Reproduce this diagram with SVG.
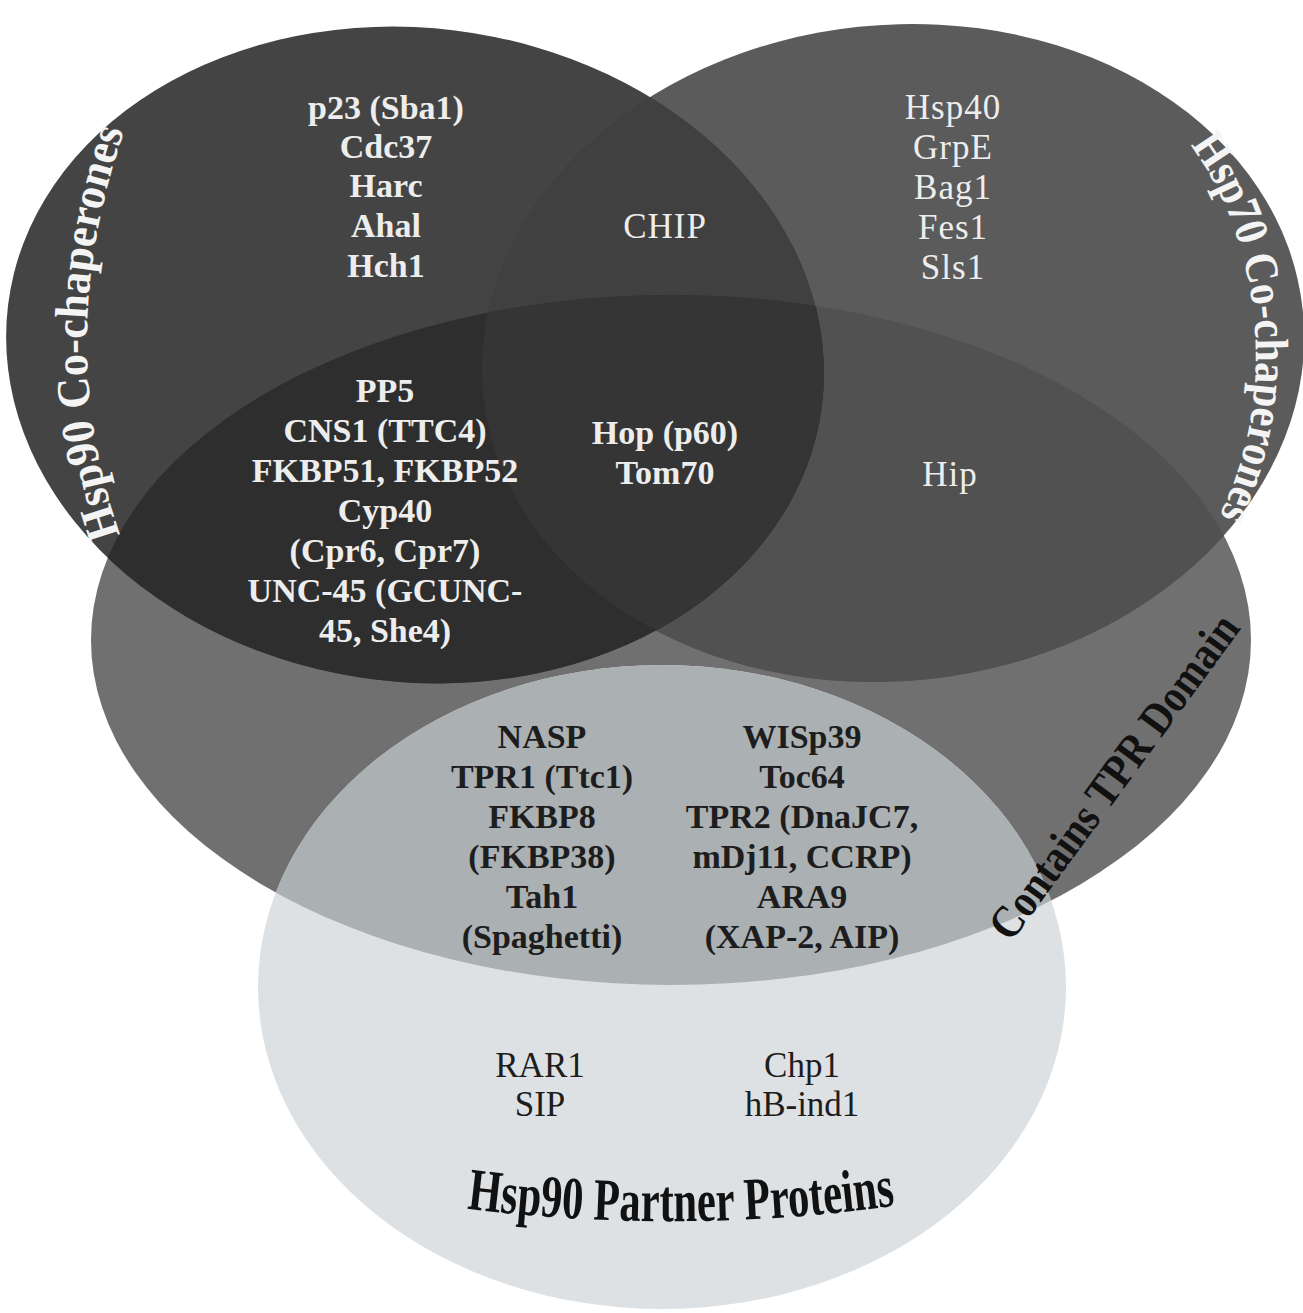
<svg xmlns="http://www.w3.org/2000/svg" width="1303" height="1313" viewBox="0 0 1303 1313">
<style>
  text { font-family: "Liberation Serif", "Times New Roman", serif; text-anchor: middle; }
  .lw { fill: #ededed; font-size: 34px; font-weight: bold; }
  .lwn { fill: #ededed; font-size: 35px; font-weight: normal; letter-spacing: 1px; }
  .lk { fill: #1d1d1d; font-size: 34px; font-weight: bold; }
  .lkn { fill: #1d1d1d; font-size: 35px; font-weight: normal; }
  .tw { fill: #f4f4f4; font-size: 47px; font-weight: bold; }
  .tk { fill: #111111; font-weight: bold; }
</style>
<defs>
  <clipPath id="c2"><ellipse cx="0" cy="0" rx="412" ry="328" transform="translate(893,353) rotate(-6)"/></clipPath>
  <clipPath id="c3"><ellipse cx="671" cy="640" rx="580" ry="345"/></clipPath>
  <path id="p90" d="M 122,540 Q 50,340 126,126"/>
  <path id="p70" d="M 1190,145 C 1255,230 1288,392 1212,530"/>
  <path id="pPart" d="M 462,1208 Q 681,1236 900,1205"/>
</defs>
<rect width="1303" height="1313" fill="#ffffff"/>

<g id="tpr-domain">
  <ellipse cx="671" cy="640" rx="580" ry="345" fill="#707070"/>
</g>
<g id="hsp90-partner-proteins">
  <ellipse cx="662" cy="987" rx="404" ry="322" fill="#dee1e3"/>
  <g clip-path="url(#c3)"><ellipse cx="662" cy="987" rx="404" ry="322" fill="#abb0b3"/></g>
</g>
<g id="hsp70-cochaperones">
  <ellipse cx="0" cy="0" rx="412" ry="328" transform="translate(893,353) rotate(-6)" fill="#5b5b5b"/>
  <g clip-path="url(#c3)"><ellipse cx="0" cy="0" rx="412" ry="328" transform="translate(893,353) rotate(-6)" fill="#515151"/></g>
</g>
<g id="hsp90-cochaperones">
  <ellipse cx="0" cy="0" rx="410" ry="327" transform="translate(415,355) rotate(7)" fill="#444444"/>
  <g clip-path="url(#c2)"><ellipse cx="0" cy="0" rx="410" ry="327" transform="translate(415,355) rotate(7)" fill="#404040"/></g>
  <g clip-path="url(#c3)"><ellipse cx="0" cy="0" rx="410" ry="327" transform="translate(415,355) rotate(7)" fill="#2e2e2e"/></g>
  <g clip-path="url(#c2)"><g clip-path="url(#c3)"><ellipse cx="0" cy="0" rx="410" ry="327" transform="translate(415,355) rotate(7)" fill="#353535"/></g></g>
</g>

<g id="titles">
  <text class="tw"><textPath href="#p90" startOffset="50%" textLength="412" lengthAdjust="spacingAndGlyphs">Hsp90 Co-chaperones</textPath></text>
  <text class="tw" style="text-anchor:start"><textPath href="#p70" startOffset="0" textLength="390" lengthAdjust="spacingAndGlyphs">Hsp70 Co-chaperones</textPath></text>
  <text class="tk" font-size="46" style="text-anchor:start" transform="translate(1011,943) rotate(-53.8)" textLength="390" lengthAdjust="spacingAndGlyphs">Contains TPR Domain</text>
  <text class="tk" font-size="60"><textPath href="#pPart" startOffset="50%" textLength="430" lengthAdjust="spacingAndGlyphs">Hsp90 Partner Proteins</textPath></text>
</g>

<g id="labels-hsp90-only">
  <text class="lw" x="386" y="119">p23 (Sba1)</text>
  <text class="lw" x="386" y="158">Cdc37</text>
  <text class="lw" x="386" y="197">Harc</text>
  <text class="lw" x="386" y="237">Ahal</text>
  <text class="lw" x="386" y="277">Hch1</text>
</g>
<g id="labels-hsp90-hsp70">
  <text class="lwn" x="665" y="238">CHIP</text>
</g>
<g id="labels-hsp70-only">
  <text class="lwn" x="953" y="119">Hsp40</text>
  <text class="lwn" x="953" y="159">GrpE</text>
  <text class="lwn" x="953" y="199">Bag1</text>
  <text class="lwn" x="953" y="239">Fes1</text>
  <text class="lwn" x="953" y="279">Sls1</text>
</g>
<g id="labels-hsp90-tpr">
  <text class="lw" x="385" y="402">PP5</text>
  <text class="lw" x="385" y="442">CNS1 (TTC4)</text>
  <text class="lw" x="385" y="482">FKBP51, FKBP52</text>
  <text class="lw" x="385" y="522">Cyp40</text>
  <text class="lw" x="385" y="562">(Cpr6, Cpr7)</text>
  <text class="lw" x="385" y="602">UNC-45 (GCUNC-</text>
  <text class="lw" x="385" y="642">45, She4)</text>
</g>
<g id="labels-hsp90-hsp70-tpr">
  <text class="lw" x="665" y="444">Hop (p60)</text>
  <text class="lw" x="665" y="484">Tom70</text>
</g>
<g id="labels-hsp70-tpr">
  <text class="lwn" x="950" y="486">Hip</text>
</g>
<g id="labels-tpr-partner">
  <text class="lk" x="542" y="748">NASP</text>
  <text class="lk" x="542" y="788">TPR1 (Ttc1)</text>
  <text class="lk" x="542" y="828">FKBP8</text>
  <text class="lk" x="542" y="868">(FKBP38)</text>
  <text class="lk" x="542" y="908">Tah1</text>
  <text class="lk" x="542" y="948">(Spaghetti)</text>
  <text class="lk" x="802" y="748">WISp39</text>
  <text class="lk" x="802" y="788">Toc64</text>
  <text class="lk" x="802" y="828">TPR2 (DnaJC7,</text>
  <text class="lk" x="802" y="868">mDj11, CCRP)</text>
  <text class="lk" x="802" y="908">ARA9</text>
  <text class="lk" x="802" y="948">(XAP-2, AIP)</text>
</g>
<g id="labels-partner-only">
  <text class="lkn" x="540" y="1077">RAR1</text>
  <text class="lkn" x="540" y="1116">SIP</text>
  <text class="lkn" x="802" y="1077">Chp1</text>
  <text class="lkn" x="802" y="1116">hB-ind1</text>
</g>
</svg>
